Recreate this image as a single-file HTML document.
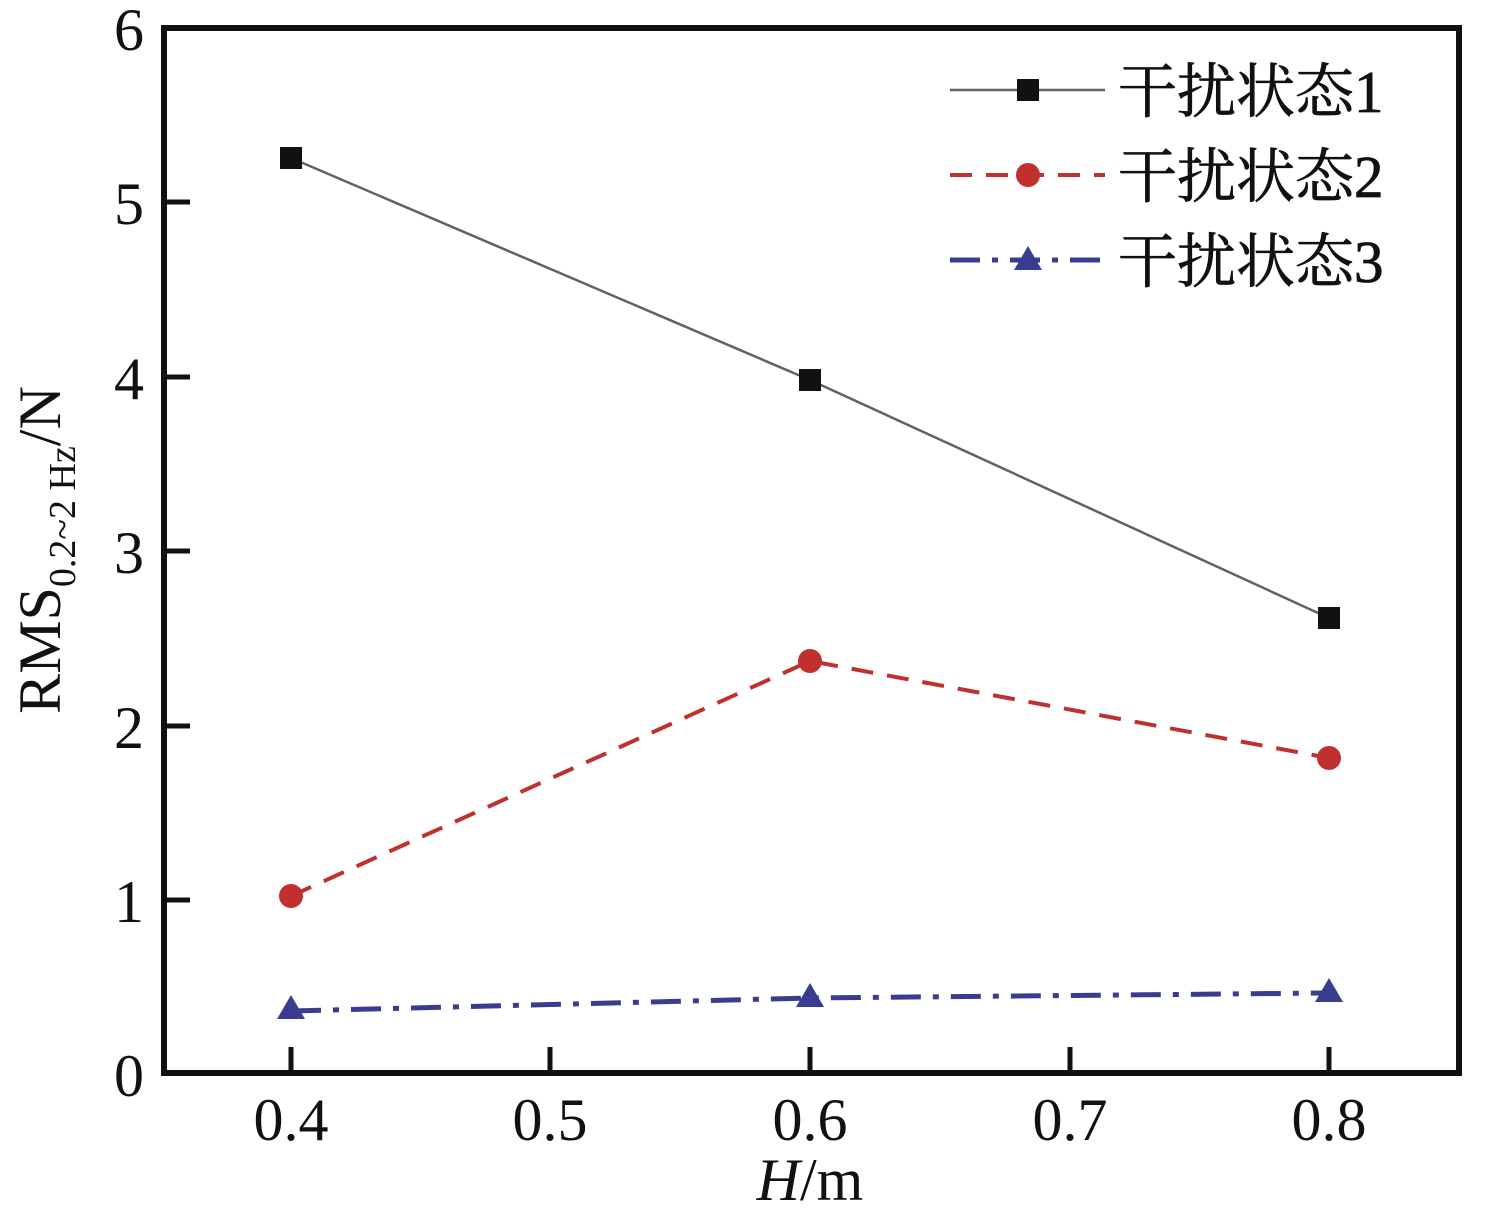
<!DOCTYPE html>
<html><head><meta charset="utf-8"><style>body{margin:0;background:#fff} svg text{font-family:"Liberation Serif","Times New Roman","Noto Serif CJK SC",serif}</style></head><body>
<svg width="1488" height="1213" xmlns="http://www.w3.org/2000/svg">
<rect x="164" y="28" width="1295" height="1045" fill="none" stroke="#111" stroke-width="6"/>
<g stroke="#111" stroke-width="5">
<line x1="164" y1="202" x2="190" y2="202"/><line x1="164" y1="377" x2="190" y2="377"/><line x1="164" y1="551" x2="190" y2="551"/><line x1="164" y1="726" x2="190" y2="726"/><line x1="164" y1="900" x2="190" y2="900"/>
<line x1="291" y1="1073" x2="291" y2="1047"/><line x1="550" y1="1073" x2="550" y2="1047"/><line x1="810" y1="1073" x2="810" y2="1047"/><line x1="1070" y1="1073" x2="1070" y2="1047"/><line x1="1329" y1="1073" x2="1329" y2="1047"/>
</g>
<g font-size="60" fill="#111" text-anchor="end">
<text x="144" y="50">6</text><text x="144" y="224">5</text><text x="144" y="399">4</text><text x="144" y="573">3</text><text x="144" y="748">2</text><text x="144" y="922">1</text><text x="144" y="1096">0</text>
</g>
<g font-size="60" fill="#111" text-anchor="middle">
<text x="291" y="1140">0.4</text><text x="550" y="1140">0.5</text><text x="810" y="1140">0.6</text><text x="1070" y="1140">0.7</text><text x="1329" y="1140">0.8</text>
<text x="810" y="1200"><tspan font-style="italic">H</tspan>/m</text>
</g>
<text transform="translate(60,550) rotate(-90)" font-size="60" fill="#111" text-anchor="middle">RMS<tspan font-size="38" dy="15">0.2~2 Hz</tspan><tspan dy="-15">/N</tspan></text>
<polyline points="291,158 810,380 1329,618" fill="none" stroke="#6a5f5f" stroke-width="2.5"/>
<g fill="#111"><rect x="280" y="147" width="22" height="22"/><rect x="799" y="369" width="22" height="22"/><rect x="1318" y="607" width="22" height="22"/></g>
<polyline points="291,896 810,661 1329,758" fill="none" stroke="#c0302e" stroke-width="4" stroke-dasharray="22,14"/>
<g fill="#c0302e"><circle cx="291" cy="896" r="12"/><circle cx="810" cy="661" r="12"/><circle cx="1329" cy="758" r="12"/></g>
<polyline points="291,1011 810,998 1329,993" fill="none" stroke="#3a3d8f" stroke-width="5" stroke-dasharray="30,12,6,12"/>
<g fill="#3a3d8f"><polygon points="291,995 305,1019 277,1019"/><polygon points="810,983 824,1007 796,1007"/><polygon points="1329,978 1343,1002 1315,1002"/></g>
<line x1="950" y1="90" x2="1105" y2="90" stroke="#6a5f5f" stroke-width="2.5"/><rect x="1017" y="79" width="22" height="22" fill="#111"/>
<line x1="950" y1="175" x2="1105" y2="175" stroke="#c0302e" stroke-width="4" stroke-dasharray="22,14"/><circle cx="1028" cy="175" r="12" fill="#c0302e"/>
<line x1="950" y1="260" x2="1105" y2="260" stroke="#3a3d8f" stroke-width="5" stroke-dasharray="30,12,6,12"/><polygon points="1028,246 1042,270 1014,270" fill="#3a3d8f"/>
<g font-size="59" fill="#111" stroke="#111" stroke-width="0.8">
<text x="1118" y="112">干扰状态1</text><text x="1118" y="197">干扰状态2</text><text x="1118" y="282">干扰状态3</text>
</g>
</svg>
</body></html>
